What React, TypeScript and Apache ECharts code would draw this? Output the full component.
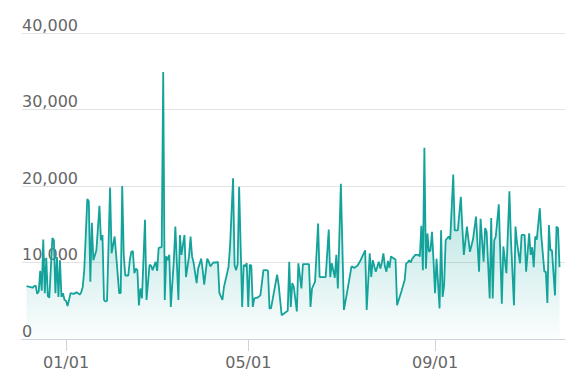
import React, { useEffect, useRef } from "react";
import * as echarts from "echarts";

// Days counted from 2023-01-01 (negative = December 2022)
const dayOffsets = [
  -26, -24, -22, -21, -20, -19, -18, -17, -16, -15, -14, -13, -12, -11, -9, -8, -7, -6, -5, -4, -3, -2, -1, 0, 1, 3, 5, 7, 9, 10,
  11, 12, 14, 15, 16, 17, 18, 20, 22, 23, 24, 25, 26, 27, 29, 30, 32, 33, 35, 36, 37, 38, 39, 41, 42, 43, 44, 45, 46, 47,
  48, 49, 50, 52, 53, 55, 56, 57, 59, 60, 61, 63, 64, 65, 66, 67, 68, 69, 71, 72, 74, 75, 76, 78, 79, 81, 82, 83, 84, 86,
  87, 89, 90, 91, 93, 94, 95, 97, 99, 100, 101, 103, 104, 107, 108, 110, 111, 112, 113, 114, 116, 117, 118, 119, 120, 121, 122, 123, 124, 126,
  128, 130, 132, 133, 134, 135, 139, 140, 142, 144, 146, 147, 148, 149, 150, 152, 153, 155, 156, 160, 161, 162, 164, 166, 167, 171, 173, 174, 175, 177,
  178, 179, 181, 183, 185, 188, 190, 192, 194, 197, 198, 200, 201, 202, 203, 204, 206, 207, 208, 209, 210, 211, 212, 213, 214, 216, 217, 218, 221, 223,
  224, 225, 226, 227, 228, 230, 232, 233, 234, 235, 236, 237, 238, 239, 240, 241, 242, 243, 244, 246, 247, 248, 249, 250, 252, 253, 255, 256, 258, 260,
  261, 262, 264, 266, 268, 270, 272, 273, 275, 276, 277, 279, 280, 281, 282, 283, 285, 287, 288, 290, 292, 293, 295, 296, 297, 299, 300, 302, 303, 305,
  306, 307, 308, 309, 310, 312, 313, 315, 316, 317, 318, 319, 320, 322, 323, 324, 325,
];

const visits = [
  6900, 6800, 6700, 6900, 7000, 5900, 6200, 8900, 6300, 13000, 6000, 10600, 5600, 5400, 13200, 12900, 6000, 10700, 5500, 10300, 5500, 6000, 5100, 5000, 4300, 6000, 5900, 6100, 5800, 6100,
  6800, 9000, 18300, 18000, 7500, 15200, 10300, 11600, 17400, 12900, 13600, 5100, 4900, 5000, 19800, 11200, 13400, 11000, 6000, 6000, 20000, 11000, 8300, 8300, 10300, 11400, 11500, 8600, 9200, 9000,
  4400, 6600, 5300, 15600, 5100, 9700, 9600, 9000, 10100, 8900, 11900, 12000, 34900, 5100, 10800, 10300, 11000, 4200, 10300, 14700, 5100, 13600, 11000, 13600, 8100, 10800, 13400, 10800, 10000, 7300,
  9200, 10500, 9000, 7100, 10500, 10100, 9500, 10000, 10000, 10100, 6000, 5100, 6800, 9400, 12100, 21000, 9600, 9000, 9800, 19900, 4200, 9700, 9500, 9900, 4200, 9700, 9600, 4200, 5300, 5400,
  5700, 9000, 9000, 8900, 4000, 4000, 8400, 7100, 3100, 3400, 3700, 10100, 4200, 7300, 6800, 3600, 9900, 6600, 9800, 9800, 4200, 6600, 7500, 15100, 8100, 8100, 14300, 8100, 9900, 8000,
  11000, 6600, 20300, 3800, 6000, 9500, 9300, 9600, 10300, 11600, 3800, 11200, 8100, 10300, 9500, 8800, 10100, 9200, 10000, 11200, 9500, 8800, 10200, 9300, 10800, 10500, 10400, 4400, 6300, 7700,
  9900, 10000, 10300, 10000, 10500, 11000, 11000, 10800, 14800, 9000, 25000, 9200, 13800, 11400, 11600, 14000, 10300, 6000, 10500, 4000, 14200, 5500, 7000, 12900, 13400, 13000, 21500, 14200, 14200, 18600,
  14500, 11000, 14700, 11400, 13000, 16000, 8800, 15700, 10100, 14500, 14000, 5300, 15800, 5300, 12900, 13400, 17600, 4600, 12100, 8600, 19300, 13000, 4400, 14700, 12600, 9900, 13600, 13600, 8800, 13800,
  11000, 12000, 9400, 13400, 13000, 17100, 13500, 8800, 8800, 4700, 14900, 11600, 11600, 5700, 14700, 14500, 9400,
];

const yTicks = [0, 10000, 20000, 30000, 40000];
const tickDates = [
  [2023, 0, 1],
  [2023, 4, 1],
  [2023, 8, 1],
];

const DAY = 86400000;
const BASE = new Date(2023, 0, 1).getTime();

export default function App() {
  const ref = useRef<HTMLDivElement>(null);
  useEffect(() => {
    if (!ref.current) return;
    const chart = echarts.init(ref.current, undefined, { renderer: "svg" });
    const data = dayOffsets.map((d, i) => [new Date(2023, 0, 1 + d).getTime(), visits[i]]);
    const tickVals = tickDates.map(([y, m, d]) => new Date(y, m, d).getTime());
    chart.setOption({
      animation: false,
      grid: { left: 22, right: 19, top: 33, bottom: 52 },
      xAxis: {
        type: "time",
        min: BASE - 29 * DAY,
        max: BASE + 328.6 * DAY,
        axisLine: { lineStyle: { color: "#cdd3de", width: 1 } },
        axisTick: { show: true, length: 12, customValues: tickVals, lineStyle: { color: "#cdd3de" } },
        axisLabel: {
          customValues: tickVals,
          formatter: "{MM}/{dd}",
          color: "#666666",
          fontSize: 16,
          fontFamily: "DejaVu Sans",
          margin: 15,
          showMinLabel: true,
          showMaxLabel: true,
        },
        splitLine: { show: false },
      },
      yAxis: {
        type: "value",
        min: yTicks[0],
        max: yTicks[yTicks.length - 1],
        interval: yTicks[1] - yTicks[0],
        axisLine: { show: false },
        axisTick: { show: false },
        axisLabel: {
          inside: true,
          margin: 0,
          verticalAlign: "bottom",
          color: "#666666",
          fontSize: 16,
          fontFamily: "DejaVu Sans",
          padding: [0, 0, 0, 0],
        },
        splitLine: { lineStyle: { color: "#e3e3e3", width: 1 } },
      },
      series: [
        {
          type: "line",
          data,
          showSymbol: false,
          lineStyle: { color: "#13a39b", width: 1.8 },
          itemStyle: { color: "#13a39b" },
          areaStyle: {
            color: new echarts.graphic.LinearGradient(0, 0, 0, 1, [
              { offset: 0, color: "rgba(20,165,157,0.8)" },
              { offset: 1, color: "rgba(20,165,157,0.02)" },
            ]),
          },
        },
      ],
    });
    return () => chart.dispose();
  }, []);
  return <div ref={ref} style={{ width: 584, height: 391, position: "absolute", left: 0, top: 0 }} />;
}
